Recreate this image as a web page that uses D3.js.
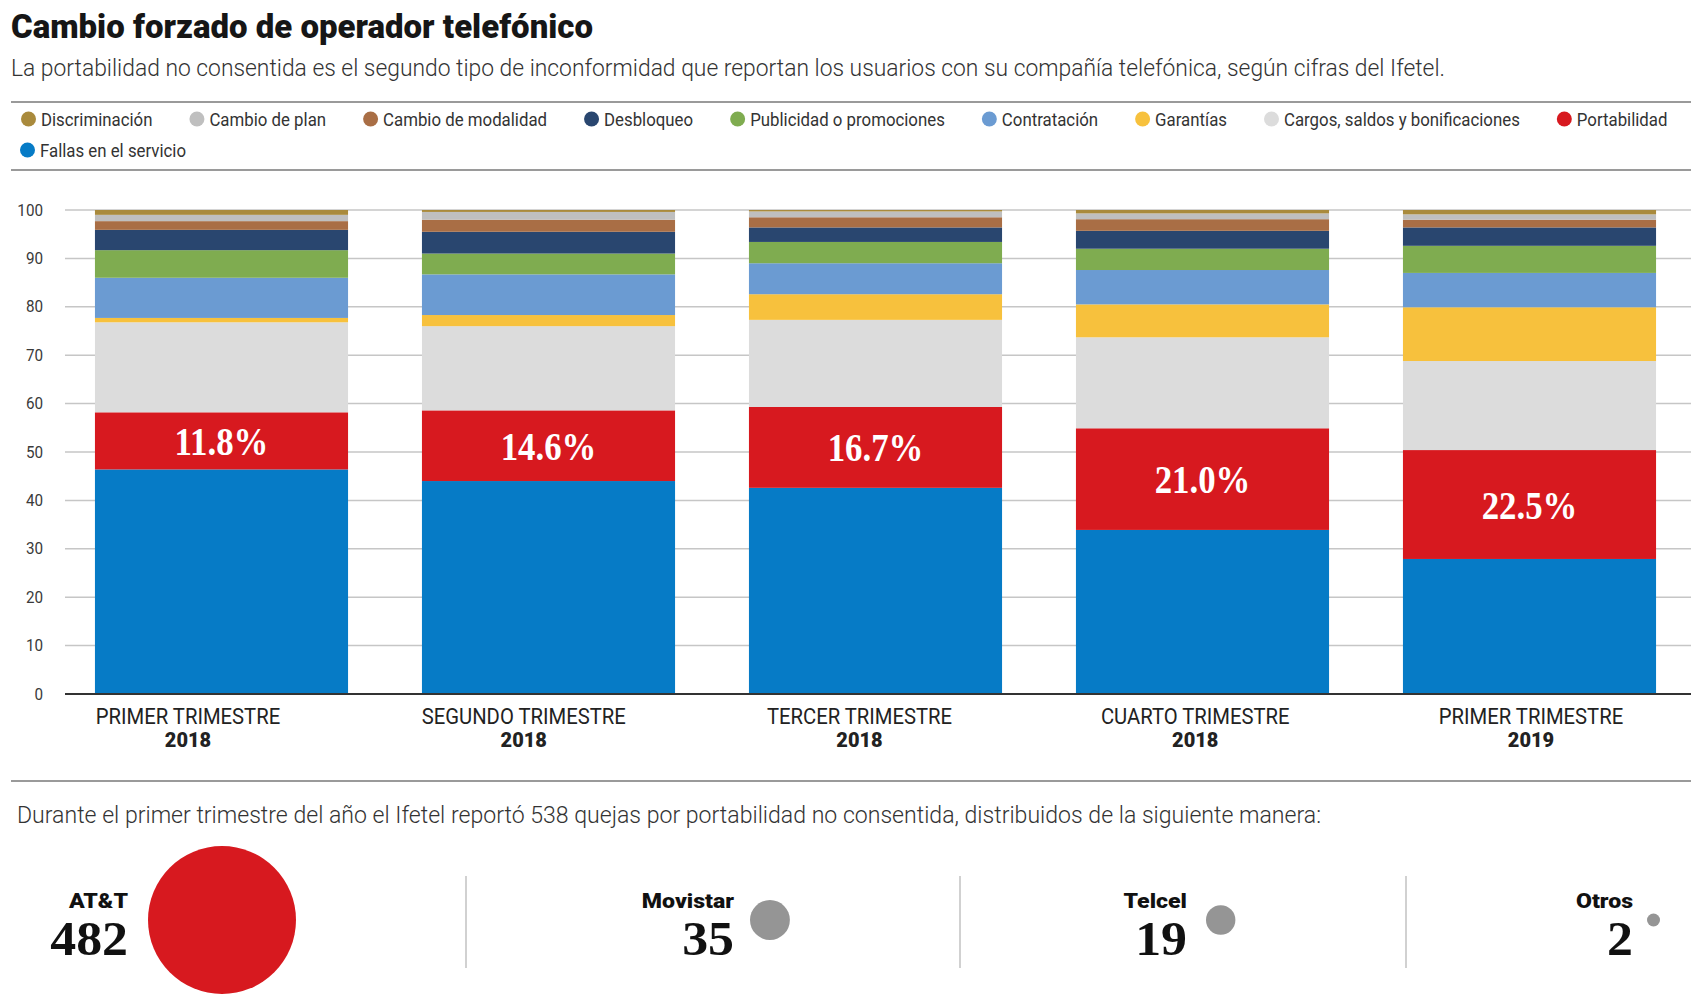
<!DOCTYPE html>
<html><head><meta charset="utf-8">
<script src="https://cdn.jsdelivr.net/npm/d3@7"></script>
<style>body{margin:0;background:#fff}svg{display:block}</style>
</head><body>
<svg id="c" width="1700" height="995"></svg>
<script>
// ---------- DATA ----------
const quarters = ["PRIMER TRIMESTRE","SEGUNDO TRIMESTRE","TERCER TRIMESTRE","CUARTO TRIMESTRE","PRIMER TRIMESTRE"];
const years = ["2018","2018","2018","2018","2019"];
const legendOrder = ["Discriminación","Cambio de plan","Cambio de modalidad","Desbloqueo","Publicidad o promociones","Contratación","Garantías","Cargos, saldos y bonificaciones","Portabilidad","Fallas en el servicio"];
const fallas        = [46.4, 44.0, 42.6, 33.9, 27.9];
const portabilidad  = [11.8, 14.6, 16.7, 21.0, 22.5];
const cargos        = [18.6, 17.4, 18.0, 18.8, 18.4];
const garantias     = [0.9, 2.3, 5.3, 6.8, 11.1];
const contratacion  = [8.3, 8.4, 6.4, 7.1, 7.1];
const publicidad    = [5.7, 4.3, 4.4, 4.4, 5.6];
const desbloqueo    = [4.2, 4.5, 3.0, 3.7, 3.8];
const modalidad     = [1.8, 2.5, 2.1, 2.4, 1.6];
const cambioPlan    = [1.3, 1.6, 1.2, 1.2, 1.1];
const discriminacion= [1.0, 0.4, 0.3, 0.7, 0.9];
const yTicks = [0,10,20,30,40,50,60,70,80,90,100];
const companies = ["AT&T","Movistar","Telcel","Otros"];
const complaints = [482, 35, 19, 2];

// ---------- SETUP ----------
const series = {
  "Fallas en el servicio": fallas,
  "Portabilidad": portabilidad,
  "Cargos, saldos y bonificaciones": cargos,
  "Garantías": garantias,
  "Contratación": contratacion,
  "Publicidad o promociones": publicidad,
  "Desbloqueo": desbloqueo,
  "Cambio de modalidad": modalidad,
  "Cambio de plan": cambioPlan,
  "Discriminación": discriminacion
};
const stackKeys = Object.keys(series);
const colorMap = {
  "Discriminación":"#a98a3c",
  "Cambio de plan":"#bfbfbf",
  "Cambio de modalidad":"#a96e45",
  "Desbloqueo":"#29466f",
  "Publicidad o promociones":"#7fac50",
  "Contratación":"#6b9bd2",
  "Garantías":"#f7c13d",
  "Cargos, saldos y bonificaciones":"#dcdcdc",
  "Portabilidad":"#d7191f",
  "Fallas en el servicio":"#067bc6"
};
const rows = quarters.map((q,i)=>{const r={idx:i}; stackKeys.forEach(k=>r[k]=series[k][i]); return r;});

const SANS = "Roboto, 'Noto Sans', sans-serif";
const SERIF = "'Liberation Serif', 'DejaVu Serif', serif";
const svg = d3.select("#c");

function condense(sel,k){sel.each(function(){const w=this.getComputedTextLength();this.setAttribute("textLength",w*k);this.setAttribute("lengthAdjust","spacingAndGlyphs");});}
function fitTo(sel,w){sel.attr("textLength",w).attr("lengthAdjust","spacingAndGlyphs");}

// ---------- HEADER ----------
svg.append("text").attr("x",11).attr("y",38).text("Cambio forzado de operador telefónico")
  .attr("font-family",SANS).attr("font-weight",900).attr("font-size",34).attr("fill","#161616")
  .call(fitTo,582);
svg.append("text").attr("x",11).attr("y",76)
  .text("La portabilidad no consentida es el segundo tipo de inconformidad que reportan los usuarios con su compañía telefónica, según cifras del Ifetel.")
  .attr("font-family",SANS).attr("font-weight",300).attr("font-size",23).attr("fill","#333")
  .call(fitTo,1434);
svg.append("line").attr("x1",11).attr("x2",1691).attr("y1",102).attr("y2",102).attr("stroke","#9a9a9a").attr("stroke-width",2);
svg.append("line").attr("x1",11).attr("x2",1691).attr("y1",170).attr("y2",170).attr("stroke","#9a9a9a").attr("stroke-width",2);

// ---------- LEGEND ----------
const lg = svg.append("g");
let cx = 21, row = 0; const rowY=[119,150], r=7.5, gap=37, maxX=1691;
legendOrder.forEach(name=>{
  const g = lg.append("g");
  const t = g.append("text").attr("x",0).attr("y",0).attr("dy","0.35em").text(name)
    .attr("font-family",SANS).attr("font-size",19).attr("fill","#333");
  condense(t,0.885);
  const tw = +t.attr("textLength");
  const total = 2*r+5+tw;
  if (cx+total>maxX){row++; cx=20;}
  g.append("circle").attr("cx",cx+r).attr("cy",rowY[row]).attr("r",r).attr("fill",colorMap[name]);
  t.attr("x",cx+2*r+5).attr("y",rowY[row]);
  cx += total+gap;
});

// ---------- CHART ----------
const y = d3.scaleLinear().domain([0,100]).range([694,210]);
const x = d3.scaleBand().domain(d3.range(quarters.length)).range([58,1693]).paddingInner(0.226).paddingOuter(0.113);
const xl = d3.scalePoint().domain(d3.range(quarters.length)).range([188,1531]);

const grid = svg.append("g");
grid.selectAll("line").data(yTicks.filter(d=>d>0)).join("line")
  .attr("x1",65).attr("x2",1691).attr("y1",d=>y(d)).attr("y2",d=>y(d))
  .attr("stroke","#c6c6c6").attr("stroke-width",1.5);
grid.selectAll("text").data(yTicks).join("text")
  .attr("x",43).attr("y",d=>y(d)).attr("dy","0.35em").attr("text-anchor","end")
  .attr("font-family",SANS).attr("font-size",16).attr("fill","#3a3a3a").text(d=>d)
  .call(condense,0.95);

const stacked = d3.stack().keys(stackKeys)(rows);
svg.append("g").selectAll("g").data(stacked).join("g").attr("fill",d=>colorMap[d.key])
  .selectAll("rect").data(d=>d).join("rect")
  .attr("x",d=>x(d.data.idx)).attr("width",x.bandwidth())
  .attr("y",d=>y(d[1])).attr("height",d=>y(d[0])-y(d[1]));

svg.append("line").attr("x1",65).attr("x2",1691).attr("y1",y(0)).attr("y2",y(0)).attr("stroke","#333").attr("stroke-width",2);

const portLayer = stacked.find(s=>s.key==="Portabilidad");
svg.append("g").selectAll("text").data(portLayer).join("text")
  .attr("x",d=>x(d.data.idx)+x.bandwidth()/2).attr("y",d=>(y(d[0])+y(d[1]))/2).attr("dy","0.35em")
  .attr("text-anchor","middle").attr("font-family",SERIF).attr("font-weight",700).attr("font-size",40)
  .attr("fill","#fff").text(d=>d3.format(".1f")(d.data["Portabilidad"])+"%")
  .call(condense,0.87);

const xg = svg.append("g");
xg.selectAll("text.q").data(quarters).join("text").attr("class","q")
  .attr("x",(d,i)=>xl(i)).attr("y",724).attr("text-anchor","middle")
  .attr("font-family",SANS).attr("font-size",22).attr("fill","#222").text(d=>d)
  .call(condense,0.92);
xg.selectAll("text.yr").data(years).join("text").attr("class","yr")
  .attr("x",(d,i)=>xl(i)).attr("y",747).attr("text-anchor","middle")
  .attr("font-family",SANS).attr("font-weight",900).attr("font-size",21).attr("fill","#222").text(d=>d)
  .call(condense,0.95);

// ---------- BOTTOM ----------
svg.append("line").attr("x1",11).attr("x2",1691).attr("y1",781).attr("y2",781).attr("stroke","#9a9a9a").attr("stroke-width",2);
svg.append("text").attr("x",17).attr("y",823)
  .text("Durante el primer trimestre del año el Ifetel reportó 538 quejas por portabilidad no consentida, distribuidos de la siguiente manera:")
  .attr("font-family",SANS).attr("font-weight",300).attr("font-size",23).attr("fill","#333")
  .call(fitTo,1304);

const rScale = d3.scaleSqrt().domain([0,482]).range([0,74]);
const anchorX = [128,734,1187,1633];
const circGap = [20,16,19,14];
const bottom = svg.append("g");
companies.forEach((c,i)=>{
  bottom.append("text").attr("x",anchorX[i]).attr("y",908).attr("text-anchor","end")
    .attr("font-family",SANS).attr("font-weight",900).attr("font-size",21).attr("fill","#111").text(c)
    .call(condense,1.1);
  bottom.append("text").attr("x",anchorX[i]).attr("y",955).attr("text-anchor","end")
    .attr("font-family",SERIF).attr("font-weight",700).attr("font-size",48).attr("fill","#111").text(complaints[i])
    .call(condense,1.08);
  const rr = Math.max(rScale(complaints[i]),6.5);
  bottom.append("circle").attr("cx",anchorX[i]+circGap[i]+rr).attr("cy",920).attr("r",rr)
    .attr("fill",i===0?"#d7191f":"#959595");
});
[466,960,1406].forEach(xx=>{
  bottom.append("line").attr("x1",xx).attr("x2",xx).attr("y1",876).attr("y2",968).attr("stroke","#c2c2c2").attr("stroke-width",1.5);
});
</script>
</body></html>
